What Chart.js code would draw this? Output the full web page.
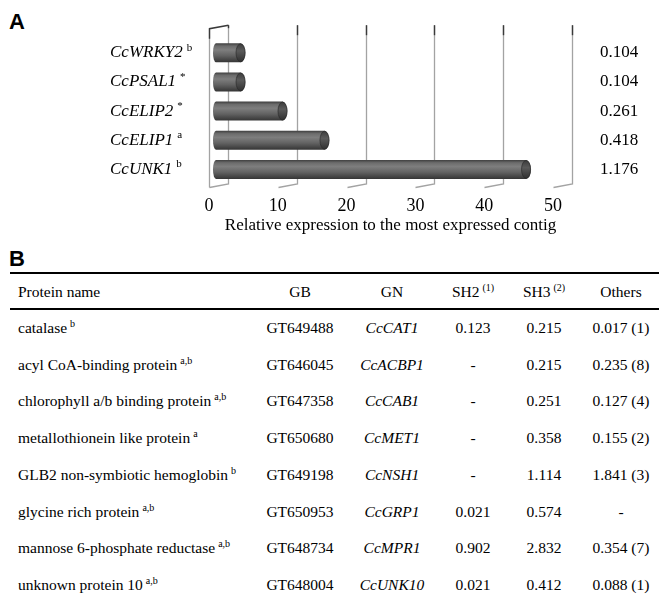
<!DOCTYPE html>
<html>
<head>
<meta charset="utf-8">
<script src="https://cdn.jsdelivr.net/npm/chart.js@4"></script>
<style>
  html, body { margin:0; padding:0; background:#fff; }
  body { width:659px; height:598px; position:relative; overflow:hidden; font-family:"Liberation Serif", serif; color:#000; }
  .panel { position:absolute; font-family:"Liberation Sans", Arial, sans-serif; font-weight:bold; font-size:22px; line-height:1; }
  #chartA { position:absolute; left:0; top:0; }
  .rule { position:absolute; left:10px; right:0; height:2px; background:#000; }
  .cell { position:absolute; white-space:nowrap; font-size:15.5px; line-height:1; transform:translate(-50%,-50%); }
  .cell.left { transform:translate(0,-50%); }
  .cell i { font-style:italic; }
  .sup { font-size:10px; position:relative; top:-6px; margin-left:3px; }
</style>
</head>
<body>
<div class="panel" style="left:9px;top:11px;">A</div>
<canvas id="chartA" width="659" height="240"></canvas>
<div class="panel" style="left:9px;top:248px;">B</div>
<div id="tableB"></div>
<script>
// ---------- Panel A data ----------
const genes = ['CcWRKY2', 'CcPSAL1', 'CcELIP2', 'CcELIP1', 'CcUNK1'];
const geneMarks = ['b', '*', '*', 'a', 'b'];
const relExpression = [4.0, 4.0, 10.1, 16.2, 45.5];
const absValues = ['0.104', '0.104', '0.261', '0.418', '1.176'];
const xTicks = [0, 10, 20, 30, 40, 50];
const xTitle = 'Relative expression to the most expressed contig';

// ---------- Panel B data ----------
const tableHeaders = ['Protein name', 'GB', 'GN', 'SH2', 'SH3', 'Others'];
const headerMarks = ['', '', '', '(1)', '(2)', ''];
const proteinNames = ['catalase', 'acyl CoA-binding protein', 'chlorophyll a/b binding protein', 'metallothionein like protein', 'GLB2 non-symbiotic hemoglobin', 'glycine rich protein', 'mannose 6-phosphate reductase', 'unknown protein 10'];
const proteinMarks = ['b', 'a,b', 'a,b', 'a', 'b', 'a,b', 'a,b', 'a,b'];
const gbIds = ['GT649488', 'GT646045', 'GT647358', 'GT650680', 'GT649198', 'GT650953', 'GT648734', 'GT648004'];
const geneNames = ['CcCAT1', 'CcACBP1', 'CcCAB1', 'CcMET1', 'CcNSH1', 'CcGRP1', 'CcMPR1', 'CcUNK10'];
const sh2Values = ['0.123', '-', '-', '-', '-', '0.021', '0.902', '0.021'];
const sh3Values = ['0.215', '0.215', '0.251', '0.358', '1.114', '0.574', '2.832', '0.412'];
const othersValues = ['0.017 (1)', '0.235 (8)', '0.127 (4)', '0.155 (2)', '1.841 (3)', '-', '0.354 (7)', '0.088 (1)'];

// ---------- Panel A chart ----------
const DEPTH_X = -19, DEPTH_Y = 3.5, WALL_RISE = 13, BAR_SHIFT = -15;

const wallPlugin = {
  id: 'wall3d',
  beforeDatasetsDraw(chart) {
    const ctx = chart.ctx;
    const { top, bottom } = chart.chartArea;
    const x = chart.scales.x;
    const wallTop = top - WALL_RISE;
    ctx.save();
    ctx.lineCap = 'butt';
    xTicks.forEach(v => {
      const px = Math.round(x.getPixelForValue(v)) + 0.5;
      ctx.strokeStyle = '#a3a3a3'; ctx.lineWidth = 1.3;
      ctx.beginPath(); ctx.moveTo(px, wallTop); ctx.lineTo(px, bottom);
      ctx.lineTo(px + DEPTH_X, bottom + DEPTH_Y); ctx.stroke();
      ctx.strokeStyle = '#3a3a3a'; ctx.lineWidth = 1.4;
      ctx.beginPath(); ctx.moveTo(px, wallTop); ctx.lineTo(px, wallTop + (v === 0 ? 3 : 10)); ctx.stroke();
    });
    // left side wall
    const x0 = Math.round(x.getPixelForValue(0)) + 0.5;
    ctx.strokeStyle = '#a3a3a3'; ctx.lineWidth = 1.3;
    ctx.beginPath(); ctx.moveTo(x0 + DEPTH_X, wallTop + DEPTH_Y); ctx.lineTo(x0 + DEPTH_X, bottom + DEPTH_Y); ctx.stroke();
    ctx.strokeStyle = '#3a3a3a'; ctx.lineWidth = 1.4;
    ctx.beginPath(); ctx.moveTo(x0 + DEPTH_X, wallTop + DEPTH_Y + 10); ctx.lineTo(x0 + DEPTH_X, wallTop + DEPTH_Y);
    ctx.lineTo(x0, wallTop); ctx.stroke();
    ctx.restore();
  },
  afterDatasetsDraw(chart) {
    const ctx = chart.ctx;
    const meta = chart.getDatasetMeta(0);
    ctx.save();
    meta.data.forEach(el => {
      const p = el.getProps(['x', 'y', 'base', 'height'], true);
      const h = p.height, t = p.y - h / 2, r = h / 2;
      const x1 = p.base + BAR_SHIFT, x2 = p.x + BAR_SHIFT;
      const rx = 5, rl = 3;
      const g = ctx.createLinearGradient(0, t, 0, t + h);
      g.addColorStop(0, '#3e3e3e');
      g.addColorStop(0.15, '#6c6c6c');
      g.addColorStop(0.35, '#7e7e7e');
      g.addColorStop(0.65, '#626262');
      g.addColorStop(1, '#353535');
      ctx.beginPath();
      ctx.moveTo(x1 + rl, t);
      ctx.lineTo(x2, t);
      ctx.ellipse(x2, p.y, rx, r, 0, -Math.PI / 2, Math.PI / 2, false);
      ctx.lineTo(x1 + rl, t + h);
      ctx.ellipse(x1 + rl, p.y, rl, r, 0, Math.PI / 2, Math.PI * 1.5, false);
      ctx.closePath();
      ctx.fillStyle = g; ctx.fill();
      // end cap
      const gc = ctx.createLinearGradient(0, t, 0, t + h);
      gc.addColorStop(0, '#3a3a3a');
      gc.addColorStop(0.4, '#5a5a5a');
      gc.addColorStop(1, '#2e2e2e');
      ctx.beginPath();
      ctx.ellipse(x2, p.y, rx - 0.5, r - 0.5, 0, 0, Math.PI * 2);
      ctx.fillStyle = gc; ctx.fill();
      ctx.strokeStyle = 'rgba(40,40,40,0.8)'; ctx.lineWidth = 0.8; ctx.stroke();
    });
    ctx.restore();
  },
  afterDraw(chart) {
    const ctx = chart.ctx;
    const y = chart.scales.y, x = chart.scales.x;
    ctx.save();
    ctx.fillStyle = '#000';
    ctx.textBaseline = 'middle';
    genes.forEach((g, i) => {
      const py = y.getPixelForValue(i);
      ctx.font = 'italic 17px "Liberation Serif"';
      ctx.textAlign = 'left';
      ctx.fillText(g, 110, py);
      const w = ctx.measureText(g).width;
      ctx.font = '11px "Liberation Serif"';
      ctx.fillText(geneMarks[i], 110 + w + 4, py - 5);
    });
    ctx.font = '17px "Liberation Serif"';
    ctx.textAlign = 'center';
    const cx = (x.getPixelForValue(xTicks[0]) + x.getPixelForValue(xTicks[xTicks.length - 1])) / 2 + DEPTH_X / 2;
    ctx.fillText(xTitle, cx, chart.chartArea.bottom + 42);
    ctx.restore();
  }
};

new Chart(document.getElementById('chartA'), {
  type: 'bar',
  data: {
    labels: genes,
    datasets: [{ data: relExpression, backgroundColor: 'rgba(0,0,0,0)', borderWidth: 0, barThickness: 19, yAxisID: 'y' }]
  },
  options: {
    indexAxis: 'y',
    responsive: false,
    animation: false,
    events: [],
    layout: { padding: { top: 23, left: 0, right: 0, bottom: 0 } },
    plugins: { legend: { display: false }, tooltip: { enabled: false }, title: { display: false } },
    scales: {
      x: {
        type: 'linear', min: 0, max: 50,
        afterBuildTicks: s => { s.ticks = xTicks.map(v => ({ value: v })); },
        afterFit: s => { s.height = 56; },
        grid: { display: false, drawTicks: false },
        border: { display: false },
        ticks: { font: { family: 'Liberation Serif', size: 18 }, color: '#000', labelOffset: DEPTH_X, padding: 11 }
      },
      y: {
        type: 'category', position: 'left',
        afterFit: s => { s.width = 228; },
        ticks: { display: false },
        grid: { display: false, drawTicks: false },
        border: { display: false }
      },
      y2: {
        type: 'category', position: 'right', labels: absValues, offset: true,
        afterFit: s => { s.width = 87; },
        ticks: { font: { family: 'Liberation Serif', size: 17 }, color: '#000', padding: 28 },
        grid: { display: false, drawTicks: false },
        border: { display: false }
      }
    }
  },
  plugins: [wallPlugin]
});

// ---------- Panel B table ----------
(function buildTable() {
  const root = document.getElementById('tableB');
  const colX = [18, 300, 392, 473, 544, 621];
  const headY = 292, rowY0 = 328, rowStep = 36.7;
  let html = '<div class="rule" style="top:272px"></div><div class="rule" style="top:308px"></div>';
  const cell = (col, y, content) =>
    `<div class="cell${col === 0 ? ' left' : ''}" style="left:${colX[col]}px;top:${y}px">${content}</div>`;
  tableHeaders.forEach((h, c) => {
    html += cell(c, headY, h + (headerMarks[c] ? `<span class="sup">${headerMarks[c]}</span>` : ''));
  });
  proteinNames.forEach((n, r) => {
    const y = rowY0 + r * rowStep;
    html += cell(0, y, `${n}<span class="sup">${proteinMarks[r]}</span>`);
    html += cell(1, y, gbIds[r]);
    html += cell(2, y, `<i>${geneNames[r]}</i>`);
    html += cell(3, y, sh2Values[r]);
    html += cell(4, y, sh3Values[r]);
    html += cell(5, y, othersValues[r]);
  });
  root.innerHTML = html;
})();
</script>
</body>
</html>
